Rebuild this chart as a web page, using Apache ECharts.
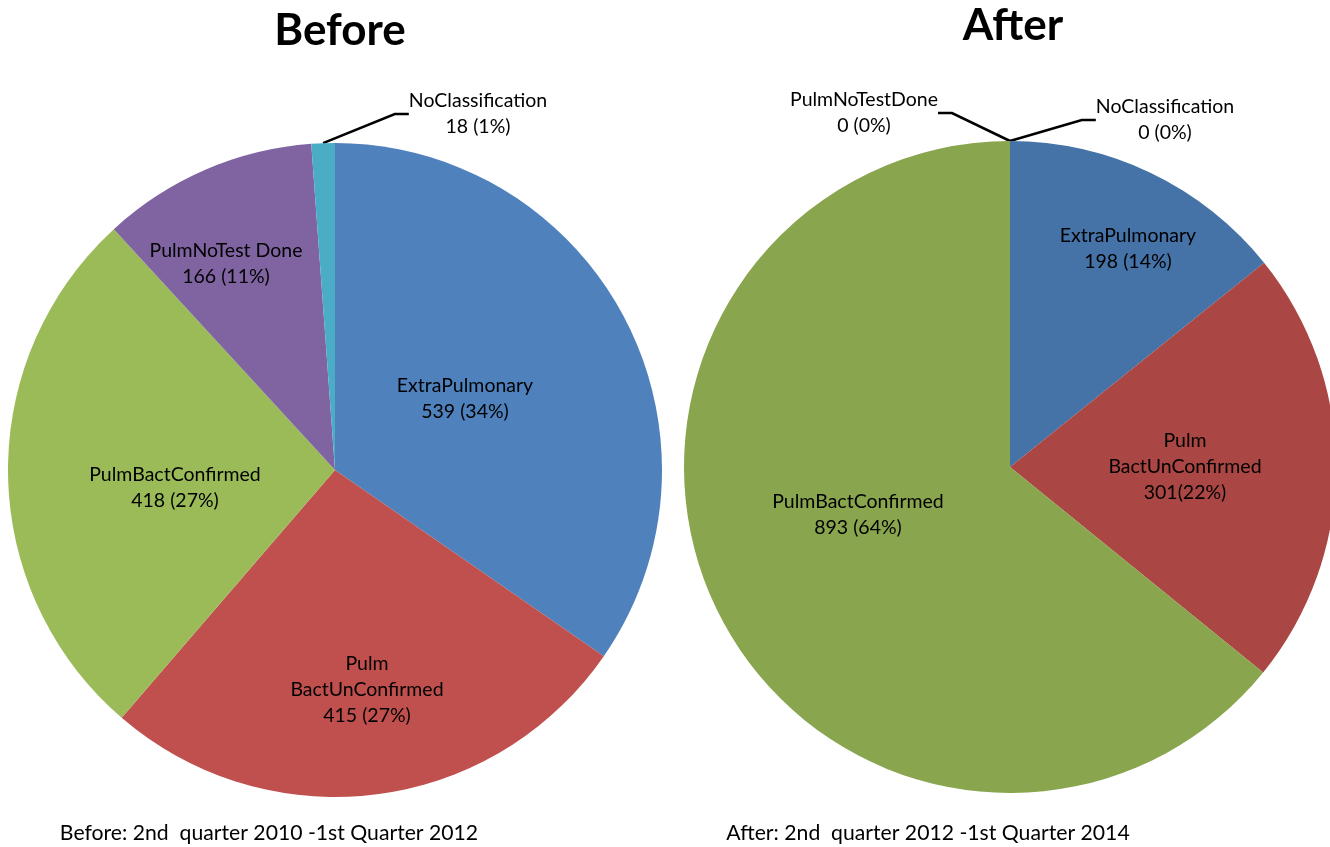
<!DOCTYPE html>
<html>
<head>
<meta charset="utf-8">
<script src="https://cdn.jsdelivr.net/npm/echarts@6/dist/echarts.min.js"></script>
<style>
  html, body { margin: 0; padding: 0; background: #ffffff; }
  #chart { width: 1330px; height: 847px; }
</style>
</head>
<body>
<div id="chart"></div>
<script>
// ---- data ----
const beforeNames  = ['ExtraPulmonary', 'Pulm\nBactUnConfirmed', 'PulmBactConfirmed', 'PulmNoTest Done', 'NoClassification'];
const beforeValues = [539, 415, 418, 166, 18];
const beforePct    = ['34%', '27%', '27%', '11%', '1%'];

const afterNames   = ['ExtraPulmonary', 'Pulm\nBactUnConfirmed', 'PulmBactConfirmed', 'PulmNoTestDone', 'NoClassification'];
const afterValues  = [198, 301, 893, 0, 0];
const afterPct     = ['14%', '22%', '64%', '0%', '0%'];
const afterSep     = [' ', '', ' ', ' ', ' '];

const titles    = ['Before', 'After'];
const subtitles = ['Before: 2nd  quarter 2010 -1st Quarter 2012', 'After: 2nd  quarter 2012 -1st Quarter 2014'];

// ---- styling ----
const FONT = 'Lato, "Open Sans", sans-serif';
const beforeColors = ['#4F81BD', '#C0504D', '#9BBB59', '#8064A2', '#4BACC6'];
const afterColors  = ['#4572A7', '#AA4643', '#89A54E', '#80699B', '#3D96AE'];

// label placements (text centers)
const labelPos = [
  [[465, 399], [367, 690], [175, 488], [226, 264], [478, 114]],
  [[1128, 249], [1185, 467], [858, 515], [864, 113], [1165, 120]]
];

function buildData(names, values, pct, sep, colors) {
  const total = values.reduce((a, b) => a + b, 0);
  return names.map((n, i) => {
    const outside = values[i] / total < 0.05;
    return {
      name: n,
      value: values[i],
      itemStyle: { color: colors[i] },
      label: {
        position: outside ? 'outside' : 'inside',
        formatter: n + '\n' + values[i] + (sep ? sep[i] : ' ') + '(' + pct[i] + ')'
      },
      labelLine: { show: outside }
    };
  });
}

const labelCommon = {
  show: true,
  color: '#000',
  fontFamily: FONT,
  fontSize: 19.5,
  lineHeight: 26,
  align: 'center'
};

function makeLayout(si) {
  return function (p) {
    const pos = labelPos[si][p.dataIndex];
    return { x: pos[0], y: pos[1], align: 'center', verticalAlign: 'middle' };
  };
}

const chart = echarts.init(document.getElementById('chart'));
chart.setOption({
  backgroundColor: '#ffffff',
  animation: false,
  title: [
    { text: titles[0], left: 335, top: 4, textAlign: 'center',
      textStyle: { fontFamily: FONT, fontWeight: 'bold', fontSize: 44, color: '#000' } },
    { text: titles[1], left: 1008, top: -1, textAlign: 'center',
      textStyle: { fontFamily: FONT, fontWeight: 'bold', fontSize: 44, color: '#000' } },
    { text: subtitles[0], left: 264, top: 818, textAlign: 'center',
      textStyle: { fontFamily: FONT, fontWeight: 'normal', fontSize: 21.2, color: '#000' } },
    { text: subtitles[1], left: 923, top: 818, textAlign: 'center',
      textStyle: { fontFamily: FONT, fontWeight: 'normal', fontSize: 21.2, color: '#000' } }
  ],
  series: [
    {
      type: 'pie',
      center: [335, 470],
      radius: 327,
      startAngle: 90,
      clockwise: true,
      avoidLabelOverlap: false,
      itemStyle: { borderWidth: 0 },
      emphasis: { disabled: true },
      label: labelCommon,
      labelLine: { length: 40, length2: 14, lineStyle: { color: '#000', width: 2.5 } },
      labelLayout: makeLayout(0),
      data: buildData(beforeNames, beforeValues, beforePct, null, beforeColors)
    },
    {
      type: 'pie',
      center: [1010, 467],
      radius: 326,
      startAngle: 90,
      clockwise: true,
      avoidLabelOverlap: false,
      stillShowZeroSum: true,
      itemStyle: { borderWidth: 0 },
      emphasis: { disabled: true },
      label: labelCommon,
      labelLine: { length: 40, length2: 14, lineStyle: { color: '#000', width: 2.5 } },
      labelLayout: makeLayout(1),
      data: buildData(afterNames, afterValues, afterPct, afterSep, afterColors)
    }
  ]
});
</script>
</body>
</html>
